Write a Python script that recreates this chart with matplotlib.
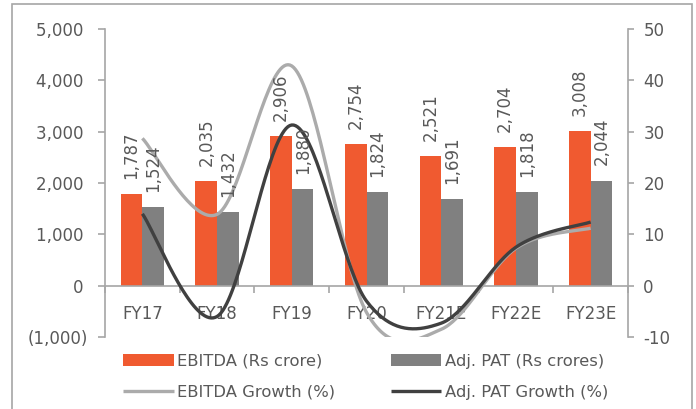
import matplotlib
matplotlib.use("Agg")
import matplotlib.pyplot as plt
from matplotlib.patches import Rectangle
import numpy as np

years = ['FY17', 'FY18', 'FY19', 'FY20', 'FY21E', 'FY22E', 'FY23E']
ebitda = [1787, 2035, 2906, 2754, 2521, 2704, 3008]
adj_pat = [1524, 1432, 1880, 1824, 1691, 1818, 2044]
ebitda_growth = [28.7, 13.9, 42.8, -5.2, -8.5, 7.3, 11.2]
pat_growth = [14.0, -6.0, 31.3, -3.0, -7.3, 7.5, 12.4]

orange = '#F05A30'
grey_bar = '#808080'
light_line = '#ABABAB'
dark_line = '#404040'
txt = '#595959'
spine_c = '#A6A6A6'


def smooth(xs, ys, n=40):
    # excel style smoothed line (catmull-rom bezier)
    p = np.column_stack([xs, ys]).astype(float)
    p = np.vstack([p[0], p, p[-1]])
    out = []
    t = np.linspace(0, 1, n)[:, None]
    for i in range(1, len(p) - 2):
        p0, p3 = p[i], p[i + 1]
        c1 = p0 + (p[i + 1] - p[i - 1]) / 6.0
        c2 = p3 - (p[i + 2] - p[i]) / 6.0
        seg = (1 - t) ** 3 * p0 + 3 * (1 - t) ** 2 * t * c1 + 3 * (1 - t) * t ** 2 * c2 + t ** 3 * p3
        out.append(seg if i == 1 else seg[1:])
    out = np.vstack(out)
    return out[:, 0], out[:, 1]


plt.rcParams['font.family'] = ['DejaVu Sans']
plt.rcParams['axes.unicode_minus'] = False
fig = plt.figure(figsize=(6.96, 4.09), dpi=100)
ax = fig.add_axes([0.1509, 0.176, 0.7514, 0.7531])
ax2 = ax.twinx()

x = np.arange(len(years))
w = 0.29
ax.bar(x - w / 2, ebitda, w, color=orange, label='EBITDA (Rs crore)', zorder=2)
ax.bar(x + w / 2, adj_pat, w, color=grey_bar, label='Adj. PAT (Rs crores)', zorder=2)

sx, sy = smooth(x, ebitda_growth)
l1, = ax2.plot(sx, sy, color=light_line, lw=2.4, label='EBITDA Growth (%)', solid_capstyle='butt')
sx, sy = smooth(x, pat_growth)
l2, = ax2.plot(sx, sy, color=dark_line, lw=2.4, label='Adj. PAT Growth (%)', solid_capstyle='butt')

# data labels on bars
for xi, v in zip(x - w / 2, ebitda):
    ax2.annotate(f'{v:,}', (xi, v), xycoords=ax.transData, xytext=(0, 11), textcoords='offset points',
                 rotation=90, ha='center', va='bottom', fontsize=12, color=txt, zorder=10)
for xi, v in zip(x + w / 2, adj_pat):
    ax2.annotate(f'{v:,}', (xi, v), xycoords=ax.transData, xytext=(0, 11), textcoords='offset points',
                 rotation=90, ha='center', va='bottom', fontsize=12, color=txt, zorder=10)

ax.set_xlim(-0.5, len(years) - 0.5)
ax.set_ylim(-1000, 5000)
ax2.set_ylim(-10, 50)

yt = np.arange(-1000, 5001, 1000)
ax.set_yticks(yt)
ax.set_yticklabels([f'({abs(v):,})' if v < 0 else f'{v:,} ' for v in yt])
ax2.set_yticks(np.arange(-10, 51, 10))

ax.set_xticks(x)
ax.set_xticklabels(years)
ax.set_xticks(np.arange(-0.5, len(years), 1), minor=True)
ax.tick_params(axis='x', which='major', length=0, pad=14, labelsize=12, labelcolor=txt)
ax.tick_params(axis='x', which='minor', length=5, width=1.2, color=spine_c, direction='out')
ax.tick_params(axis='y', length=5, width=1.2, color=spine_c, pad=7, labelsize=12, labelcolor=txt)
ax2.tick_params(axis='y', length=4, width=1.2, color=spine_c, pad=7, labelsize=12, labelcolor=txt)

ax.spines['bottom'].set_position(('data', 0))
for s in ['top', 'right']:
    ax.spines[s].set_visible(False)
for s in ['top', 'left', 'bottom']:
    ax2.spines[s].set_visible(False)
for s in ['left', 'bottom']:
    ax.spines[s].set_color(spine_c)
    ax.spines[s].set_linewidth(1.2)
ax2.spines['right'].set_color(spine_c)
ax2.spines['right'].set_linewidth(1.2)

h1, lab1 = ax.get_legend_handles_labels()
handles = [h1[0], l1, h1[1], l2]
labels = [lab1[0], 'EBITDA Growth (%)', lab1[1], 'Adj. PAT Growth (%)']
fig.legend(handles, labels, ncol=2, loc='center', bbox_to_anchor=(0.525, 0.079), frameon=False,
           fontsize=11.8, labelcolor=txt, handlelength=3.1, handleheight=0.8, handletextpad=0.2,
           columnspacing=3.4, labelspacing=0.96)

fig.patches.append(Rectangle((12 / 696, -0.01), 680 / 696, 1 - 4 / 409 + 0.01, transform=fig.transFigure,
                             fill=False, edgecolor=spine_c, lw=1.2))

fig.savefig('out.png', dpi=100)
